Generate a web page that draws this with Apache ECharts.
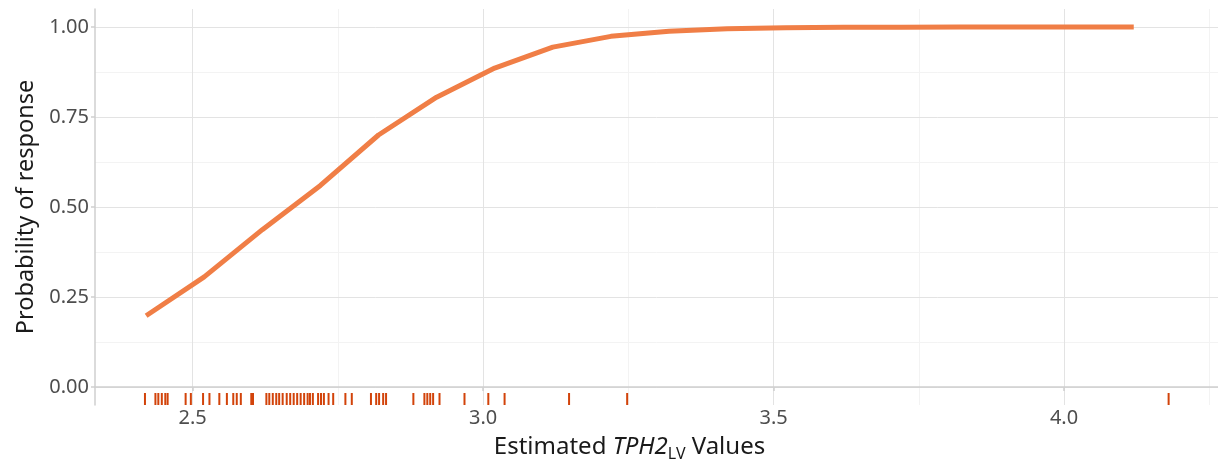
<!DOCTYPE html>
<html>
<head>
<meta charset="utf-8">
<script src="https://cdn.jsdelivr.net/npm/echarts@6/dist/echarts.min.js"></script>
<style>
html,body{margin:0;padding:0;background:#fff;}
#chart{width:1218px;height:463px;}
</style>
</head>
<body>
<div id="chart"></div>
<script>
// Fitted curve (estimated TPH2 values vs probability of response)
const curveX = [2.42, 2.52, 2.62, 2.72, 2.82, 2.92, 3.02, 3.12, 3.22, 3.32, 3.42, 3.52, 3.62, 3.72, 3.82, 3.92, 4.02, 4.12];
const curveY = [0.198, 0.306, 0.437, 0.560, 0.700, 0.805, 0.886, 0.944, 0.974, 0.988, 0.995, 0.998, 0.999, 0.9995, 1.0, 1.0, 1.0, 1.0];

// Observed values (rug)
const rugX = [2.418, 2.436, 2.441, 2.447, 2.453, 2.457, 2.488, 2.497, 2.518, 2.529, 2.546, 2.559,
  2.570, 2.576, 2.583, 2.601, 2.604, 2.627, 2.632, 2.638, 2.644, 2.649, 2.655, 2.662, 2.668,
  2.674, 2.680, 2.686, 2.692, 2.698, 2.702, 2.707, 2.716, 2.721, 2.726, 2.734, 2.742, 2.763,
  2.774, 2.807, 2.816, 2.821, 2.828, 2.833, 2.880, 2.899, 2.904, 2.909, 2.914, 2.925, 2.968,
  3.009, 3.037, 3.148, 3.248, 4.180];

// Axis ticks
const xTicks = [2.5, 3.0, 3.5, 4.0];
const xMinorTicks = [2.25, 2.75, 3.25, 3.75, 4.25];
const yTicks = [0, 0.25, 0.5, 0.75, 1.0];
const yMinorTicks = [0.125, 0.375, 0.625, 0.875];

const xMin = 2.332, xMax = 4.265, yMin = -0.05, yMax = 1.05;
const FONT = 'Noto Sans';
const lineColor = '#F07E46';
const rugColor = '#D2430A';

const chart = echarts.init(document.getElementById('chart'), null, {renderer: 'canvas'});

const option = {
  animation: false,
  backgroundColor: '#ffffff',
  grid: {left: 95, right: 0, top: 9, bottom: 58, containLabel: false, outerBoundsMode: 'none'},
  xAxis: [
    {
      type: 'value', min: xMin, max: xMax,
      name: '{n|Estimated }{i|TPH2}{s|LV}{n| Values}',
      nameLocation: 'middle', nameGap: 27,
      nameTextStyle: {
        padding: [0, 54, 0, 0],
        rich: {
          n: {fontFamily: FONT, fontSize: 24, color: '#1a1a1a', lineHeight: 30},
          i: {fontFamily: FONT, fontSize: 24, color: '#1a1a1a', fontStyle: 'italic', lineHeight: 30},
          s: {fontFamily: FONT, fontSize: 16, color: '#1a1a1a', lineHeight: 14, verticalAlign: 'bottom'}
        }
      },
      axisLine: {show: true, lineStyle: {color: '#cfcfcf', width: 1.5}},
      axisTick: {show: true, length: 4, lineStyle: {color: '#cfcfcf', width: 1.5}, customValues: xTicks},
      axisLabel: {customValues: xTicks, fontFamily: FONT, fontSize: 20, color: '#4d4d4d', margin: 3,
        formatter: v => v.toFixed(1)},
      splitLine: {show: true, lineStyle: {color: '#e3e3e3', width: 1}},
      z: 2
    },
    {
      type: 'value', min: xMin, max: xMax, position: 'bottom',
      axisLine: {show: false}, axisLabel: {show: false},
      axisTick: {show: false, customValues: xMinorTicks},
      splitLine: {show: true, lineStyle: {color: '#f3f3f3', width: 1}},
      z: 1
    }
  ],
  yAxis: [
    {
      type: 'value', min: yMin, max: yMax,
      name: 'Probability of response',
      nameLocation: 'middle', nameGap: 56,
      nameTextStyle: {fontFamily: FONT, fontSize: 23.5, color: '#1a1a1a'},
      axisLine: {show: true, lineStyle: {color: '#cfcfcf', width: 1.5}},
      axisTick: {show: true, length: 4, lineStyle: {color: '#cfcfcf', width: 1.5}, customValues: yTicks},
      axisLabel: {customValues: yTicks, fontFamily: FONT, fontSize: 20, color: '#4d4d4d', margin: 6,
        formatter: v => v.toFixed(2)},
      splitLine: {show: true, lineStyle: {color: '#e3e3e3', width: 1}},
      z: 2
    },
    {
      type: 'value', min: yMin, max: yMax, position: 'left',
      axisLine: {show: false}, axisLabel: {show: false},
      axisTick: {show: false, customValues: yMinorTicks},
      splitLine: {show: true, lineStyle: {color: '#f3f3f3', width: 1}},
      z: 1
    }
  ],
  series: [
    {
      type: 'custom',
      xAxisIndex: 0, yAxisIndex: 0,
      data: rugX.map(v => [v]),
      encode: {x: 0},
      renderItem: function (params, api) {
        const p = api.coord([api.value(0), yMin]);
        return {
          type: 'rect',
          shape: {x: p[0] - 1, y: p[1] - 12, width: 2, height: 12},
          style: {fill: rugColor}
        };
      },
      z: 3
    },
    {
      type: 'line',
      xAxisIndex: 0, yAxisIndex: 0,
      data: curveX.map((x, i) => [x, curveY[i]]),
      showSymbol: false,
      smooth: false,
      lineStyle: {color: lineColor, width: 5, cap: 'butt', join: 'round'},
      z: 4
    }
  ]
};
chart.setOption(option);
</script>
</body>
</html>
